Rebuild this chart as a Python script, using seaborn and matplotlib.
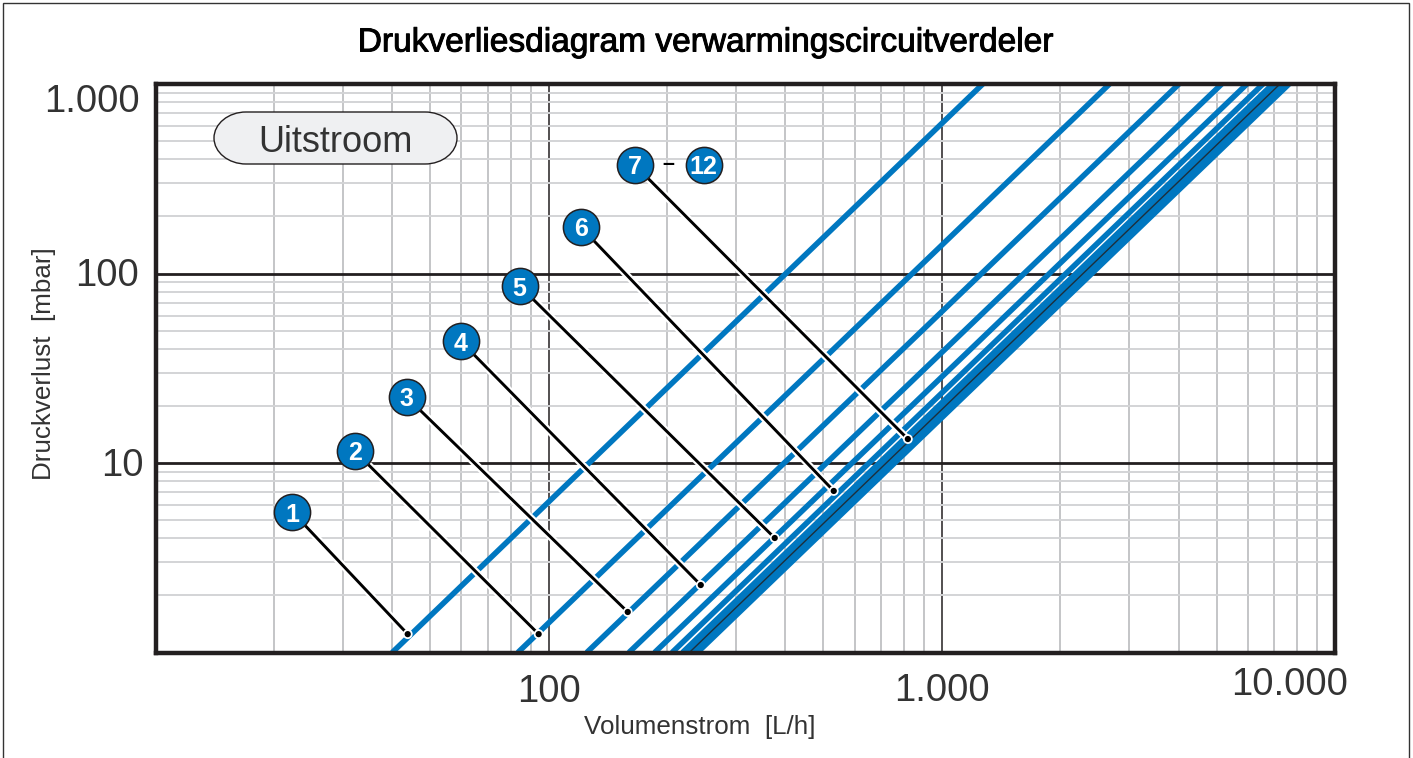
import matplotlib
matplotlib.use("Agg")
import matplotlib.pyplot as plt
import matplotlib.patheffects as pe
from matplotlib.patches import PathPatch, Rectangle
from matplotlib.path import Path
from matplotlib.ticker import LogLocator, NullFormatter
from matplotlib.transforms import ScaledTranslation
import pandas as pd
import seaborn as sns

# Data
title = "Drukverliesdiagram verwarmingscircuitverdeler"
x_label = "Volumenstrom  [L/h]"
y_label = "Druckverlust  [mbar]"
mode_label = "Uitstroom"

curve_names = ["1", "2", "3", "4", "5", "6", "7", "8", "9", "10", "11"]
flow_at_1mbar = [40, 83.5, 125, 160, 186, 206, 219, 223, 227, 231, 239]
flow_at_1000mbar = [1271, 2670, 4010, 5150, 5970, 6560, 6950, 7080, 7200, 7350, 7640]
curve_pressures = [1, 1000]
black_flow = [228, 7244]

x_ticks = [100, 1000, 10000]
x_tick_labels = ["100", "1.000", "10.000"]
y_ticks = [10, 100, 1000]
y_tick_labels = ["10", "100", "1.000"]

badge_labels = ["1", "2", "3", "4", "5", "6", "7"]
badge_flow = [22.3, 32.1, 43.5, 59.7, 84.4, 120.6, 165.5]
badge_pressure = [5.51, 11.57, 22.3, 44.0, 85.9, 176, 374]
end_flow = [43.8, 94.3, 158.9, 243.7, 375.8, 531, 819.6]
end_pressure = [1.25, 1.25, 1.636, 2.27, 4.02, 7.12, 13.38]
extra_badge = ("12", 248, 374)
dash_pos = (202, 378)

BLUE = "#0077c0"
DARK = "#231f20"
sans = ["Liberation Sans", "DejaVu Sans"]

sns.set_theme(style="white")
plt.rcParams["font.family"] = sans

W, H = 1413, 758
fig = plt.figure(figsize=(W / 100, H / 100), dpi=100)
ax = fig.add_axes([155.5 / W, 1 - 652.5 / H, (1335 - 155.5) / W, (652.5 - 84) / H])

long_rows = []
for name, q1, q2 in zip(curve_names, flow_at_1mbar, flow_at_1000mbar):
    long_rows.append({"curve": name, "flow": q1, "dp": curve_pressures[0]})
    long_rows.append({"curve": name, "flow": q2, "dp": curve_pressures[1]})
curves = pd.DataFrame(long_rows)

sns.lineplot(data=curves, x="flow", y="dp", hue="curve",
             palette={n: BLUE for n in curve_names}, estimator=None, sort=False,
             legend=False, linewidth=4.0, ax=ax, zorder=3, solid_capstyle="butt")
ax.plot(black_flow, curve_pressures, color="#1d2f3b", lw=1.0, zorder=4)

ax.set_xscale("log")
ax.set_yscale("log")
ax.set_xlim(10, 10000)
ax.set_ylim(1, 1000)

# Grid
ax.set_xticks(x_ticks, x_tick_labels)
ax.set_yticks(y_ticks, y_tick_labels)
ax.xaxis.set_minor_locator(LogLocator(10, subs=range(2, 10), numticks=12))
ax.yaxis.set_minor_locator(LogLocator(10, subs=range(2, 10), numticks=12))
ax.xaxis.set_minor_formatter(NullFormatter())
ax.yaxis.set_minor_formatter(NullFormatter())
ax.grid(False)
ax.grid(True, which="minor", axis="x", color="#c4c5c7", lw=1.4, zorder=1)
ax.grid(True, which="minor", axis="y", color="#d3d4d6", lw=1.4, zorder=1)
ax.grid(True, which="major", axis="x", color=DARK, lw=1.1, zorder=2)
ax.grid(True, which="major", axis="y", color=DARK, lw=2.0, zorder=2)
ax.set_axisbelow(True)
ax.tick_params(which="both", length=0)
ax.tick_params(axis="x", which="major", pad=14, labelsize=27.5, labelcolor="#333333")
ax.tick_params(axis="y", which="major", pad=11, labelsize=27.5, labelcolor="#333333")


def shift(label, dx, dy):
    label.set_transform(label.get_transform() + ScaledTranslation(dx / 100, dy / 100, fig.dpi_scale_trans))


xl = ax.get_xticklabels()
yl = ax.get_yticklabels()
shift(xl[0], 0, -2)
shift(xl[1], 0, -1)
shift(xl[2], -45, 5)
shift(yl[0], 3, 1.5)
shift(yl[1], -1, 1)
shift(yl[2], 0, -14)

for s in ax.spines.values():
    s.set_visible(True)
    s.set_color(DARK)
    s.set_linewidth(3.2)
    s.set_zorder(8)

ax.set_xlabel("")
ax.set_ylabel("")
fig.text(700 / W, 1 - 727 / H, x_label, ha="center", va="center", fontsize=18.7, color="#333333")
fig.text(44 / W, 1 - 364 / H, y_label, ha="center", va="center", rotation=90, fontsize=18.7, color="#333333")
fig.text(706 / W, 1 - 43 / H, title, ha="center", va="center", fontsize=24.1, color="black",
         path_effects=[pe.withStroke(linewidth=0.7, foreground="black")])

# Pill (drawn in inches so the round ends stay undistorted)
x0, x1 = 2.14, 4.57
y0, y1 = (H - 164) / 100, (H - 112) / 100
rx, ry = 0.32, 0.26
k = 0.55
ym = (y0 + y1) / 2
verts = [(x0 + rx, y0), (x1 - rx, y0),
         (x1 - rx + k * rx, y0), (x1, ym - k * ry), (x1, ym),
         (x1, ym + k * ry), (x1 - rx + k * rx, y1), (x1 - rx, y1),
         (x0 + rx, y1),
         (x0 + rx - k * rx, y1), (x0, ym + k * ry), (x0, ym),
         (x0, ym - k * ry), (x0 + rx - k * rx, y0), (x0 + rx, y0),
         (x0 + rx, y0)]
codes = [Path.MOVETO, Path.LINETO] + [Path.CURVE4] * 6 + [Path.LINETO] + [Path.CURVE4] * 6 + [Path.CLOSEPOLY]
ax.add_patch(PathPatch(Path(verts, codes), transform=fig.dpi_scale_trans, facecolor="#eff0f2",
                       edgecolor=DARK, lw=1.0, zorder=6))
fig.text(335 / W, 1 - 142 / H, mode_label, ha="center", va="center", fontsize=26, color="#333333", zorder=10)

# Leaders
halo = [pe.withStroke(linewidth=5.2, foreground="white")]
for bx, by, ex, ey in zip(badge_flow, badge_pressure, end_flow, end_pressure):
    ax.plot([bx, ex], [by, ey], color="black", lw=2.1, zorder=5, path_effects=halo)
sns.scatterplot(x=end_flow, y=end_pressure, s=50, color="white", edgecolor="none", ax=ax, zorder=5, legend=False)
sns.scatterplot(x=end_flow, y=end_pressure, s=20, color="black", edgecolor="none", ax=ax, zorder=6, legend=False)

# Badges
sns.scatterplot(x=badge_flow + [extra_badge[1]], y=badge_pressure + [extra_badge[2]], s=680, color=BLUE,
                edgecolor=DARK, linewidth=1.1, ax=ax, zorder=7, legend=False)
for t, bx, by in zip(badge_labels + [extra_badge[0]], badge_flow + [extra_badge[1]],
                     badge_pressure + [extra_badge[2]]):
    ax.text(bx, by, t, color="white", fontsize=18, fontweight="bold", ha="center", va="center_baseline", zorder=9)
ax.text(dash_pos[0], dash_pos[1], "–", color="black", fontsize=15.5, fontweight="bold",
        ha="center", va="center", zorder=9)

fig.add_artist(Rectangle((3 / W, -0.02), (1409 - 3) / W, 1.02 - 3 / H, transform=fig.transFigure, fill=False,
                         edgecolor="#333333", lw=1.0))

fig.savefig("out.png", dpi=100, facecolor="white")
